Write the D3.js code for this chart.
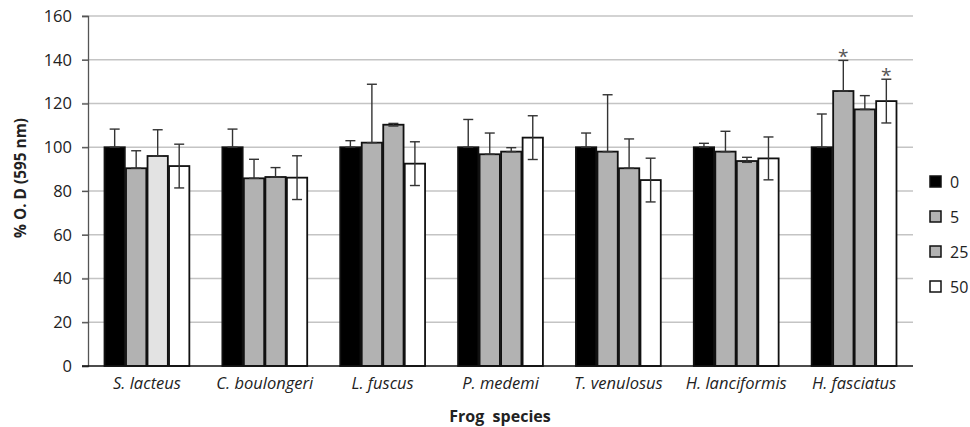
<!DOCTYPE html>
<html lang="en">
<head>
<meta charset="utf-8" />
<title>Frog species O.D.</title>
<script src="https://cdn.jsdelivr.net/npm/d3@7"></script>
<style>
  body { margin: 0; background: #fff; }
  text { font-family: "Open Sans", "Liberation Sans", sans-serif; fill: #222; }
</style>
</head>
<body>
<script>
  // DATA
  var species = ["S. lacteus", "C. boulongeri", "L. fuscus", "P. medemi",
                 "T. venulosus", "H. lanciformis", "H. fasciatus"];
  var doses = ["0", "5", "25", "50"];
  // mean % O.D. per dose, one row per species
  var means = [
    [100, 90.4, 96, 91.4],
    [100, 85.8, 86.4, 86.1],
    [100, 102.1, 110.3, 92.5],
    [100, 96.8, 98, 104.4],
    [100, 98, 90.4, 85],
    [100, 98, 93.7, 94.9],
    [100, 125.7, 117.3, 121.1]
  ];
  // upper error
  var errUp = [
    [8.3, 8, 12, 10],
    [8.3, 8.7, 4.3, 10],
    [3, 26.7, 0.6, 10],
    [12.7, 9.7, 1.8, 10],
    [6.5, 26, 13.4, 10],
    [1.8, 9.3, 1.7, 9.8],
    [15.2, 14, 6.3, 10]
  ];
  // lower error
  var errDown = [
    [0, 0, 0, 10],
    [0, 0, 0, 10],
    [0, 0, 0.6, 10],
    [0, 0, 0, 10],
    [0, 0, 0, 10],
    [0, 0, 0.6, 9.8],
    [0, 0, 0, 10]
  ];
  var signif = [["H. fasciatus", "5"], ["H. fasciatus", "50"]];
  var yTicks = [0, 20, 40, 60, 80, 100, 120, 140, 160];

  // LAYOUT
  var width = 970, height = 427;
  var m = {left: 88, right: 57, top: 16, bottom: 61};
  var plotW = width - m.left - m.right,
      plotH = height - m.top - m.bottom;

  var fills = {"0": "#000000", "5": "#b2b2b2", "25": "#b2b2b2", "50": "#ffffff"};

  var svg = d3.select("body").append("svg")
      .attr("width", width)
      .attr("height", height);

  var g = svg.append("g")
      .attr("transform", `translate(${m.left},${m.top})`);

  var x0 = d3.scaleBand().domain(species).range([0, plotW]).paddingInner(0.27).paddingOuter(0.135);
  var x1 = d3.scaleBand().domain(doses).range([0, x0.bandwidth()]);
  var y = d3.scaleLinear().domain([0, 160]).range([plotH, 0]);

  // gridlines
  g.append("g")
    .selectAll("line")
    .data(yTicks.filter((t)=>t>0))
    .enter().append("line")
      .attr("x1", -6).attr("x2", plotW)
      .attr("y1", (t)=>y(t)).attr("y2", (t)=>y(t))
      .attr("stroke", "#c4c4c4")
      .attr("stroke-width", 1.3);

  // y axis
  var yAxis = g.append("g")
      .call(d3.axisLeft(y).tickValues(yTicks).tickSize(6).tickPadding(10));
  yAxis.select(".domain").attr("stroke", "#555").attr("stroke-width", 1.3);
  yAxis.selectAll(".tick line").attr("stroke", "#555").attr("stroke-width", 1.3);
  yAxis.selectAll("text")
      .style("font-family", "'Open Sans', sans-serif")
      .style("font-size", "16.5px")
      .style("fill", "#222");

  // bars
  var rows = species.map((s, i) => ({
    species: s,
    vals: doses.map((d, j) => ({
      species: s, dose: d, v: means[i][j], up: errUp[i][j], down: errDown[i][j]
    }))
  }));

  var grp = g.selectAll(".grp")
    .data(rows)
    .enter().append("g")
      .attr("class", "grp")
      .attr("transform", (r)=>`translate(${x0(r.species)},0)`);

  var bw = x1.bandwidth();
  var cap = 10;

  grp.selectAll("rect")
    .data((r)=>r.vals)
    .enter().append("rect")
      .attr("x", (d)=>x1(d.dose) + 0.6)
      .attr("y", (d)=>y(d.v))
      .attr("width", bw - 1.2)
      .attr("height", (d)=>plotH - y(d.v))
      .attr("fill", (d)=>(d.species==="S. lacteus" && d.dose==="25") ? "#e3e3e3" : fills[d.dose])
      .attr("stroke", "#111")
      .attr("stroke-width", 1.8);

  // error bars
  var eb = grp.selectAll(".err")
    .data((r)=>r.vals)
    .enter().append("g")
      .attr("class", "err")
      .attr("transform", (d)=>`translate(${x1(d.dose) + bw/2},0)`)
      .attr("stroke", "#333")
      .attr("stroke-width", 1.4);
  eb.append("line")
    .attr("x1", 0).attr("x2", 0)
    .attr("y1", (d)=>y(d.v + d.up)).attr("y2", (d)=>y(d.v - d.down));
  eb.append("line")
    .attr("x1", -cap/2).attr("x2", cap/2)
    .attr("y1", (d)=>y(d.v + d.up)).attr("y2", (d)=>y(d.v + d.up));
  eb.append("line")
    .attr("x1", -cap/2).attr("x2", cap/2)
    .attr("y1", (d)=>y(d.v - d.down)).attr("y2", (d)=>y(d.v - d.down));

  // asterisks
  g.selectAll(".star")
    .data(signif)
    .enter().append("text")
      .attr("class", "star")
      .attr("x", (s)=>x0(s[0]) + x1(s[1]) + bw/2)
      .attr("y", (s)=>{
        var i = species.indexOf(s[0]), j = doses.indexOf(s[1]);
        return y(means[i][j] + errUp[i][j]) + 3;
      })
      .attr("text-anchor", "middle")
      .style("font-size", "19px")
      .style("fill", "#555")
      .text("*");

  // baseline
  g.append("line")
    .attr("x1", -6).attr("x2", plotW)
    .attr("y1", plotH).attr("y2", plotH)
    .attr("stroke", "#111").attr("stroke-width", 1.6);

  // category labels
  g.selectAll(".cat")
    .data(species)
    .enter().append("text")
      .attr("class", "cat")
      .attr("x", (s)=>x0(s) + x0.bandwidth()/2)
      .attr("y", plotH + 23)
      .attr("text-anchor", "middle")
      .style("font-size", "16.5px")
      .style("font-style", "italic")
      .text((s)=>s);

  // axis titles
  svg.append("text")
    .attr("x", 500)
    .attr("y", 422)
    .attr("text-anchor", "middle")
    .style("font-size", "16px")
    .style("font-weight", "bold")
    .attr("xml:space", "preserve")
    .text("Frog  species");

  svg.append("text")
    .attr("transform", "translate(26,178) rotate(-90)")
    .attr("text-anchor", "middle")
    .style("font-size", "15.4px")
    .style("font-weight", "bold")
    .text("% O. D (595 nm)");

  // legend
  var leg = svg.append("g")
    .attr("transform", "translate(930,176)");
  var li = leg.selectAll("g")
    .data(doses)
    .enter().append("g")
      .attr("transform", (d, i)=>`translate(0,${i*35})`);
  li.append("rect")
    .attr("width", 11).attr("height", 11)
    .attr("fill", (d)=>fills[d])
    .attr("stroke", "#111").attr("stroke-width", 1.5);
  li.append("text")
    .attr("x", 20).attr("y", 12)
    .style("font-size", "16px")
    .text((d)=>d);
</script>
</body>
</html>
